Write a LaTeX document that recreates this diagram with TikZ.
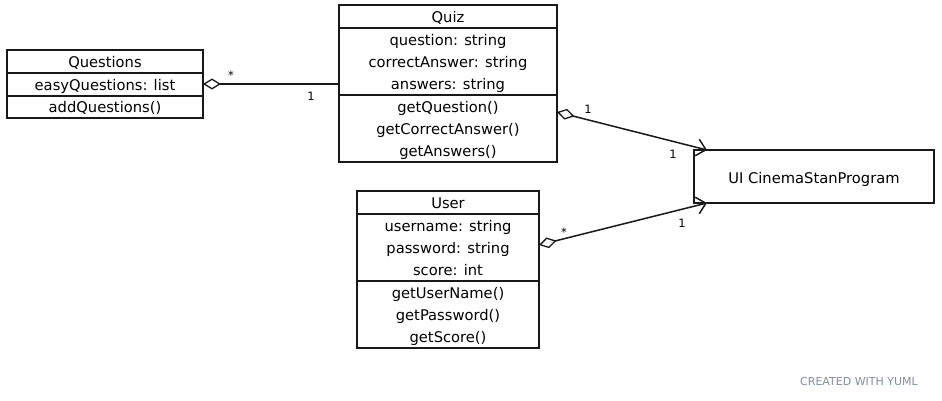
\documentclass[tikz,border=0pt]{standalone}
\usepackage{fontspec}
\setmainfont{DejaVu Sans}
\usetikzlibrary{arrows.meta,calc}
\definecolor{yumlgray}{RGB}{130,142,156}
\definecolor{edge}{RGB}{25,25,25}
\begin{document}
\begin{tikzpicture}[x=1pt,y=-1pt,
  box/.style={draw=edge,line width=1.4pt,inner sep=0pt,outer sep=0pt,anchor=north west},
  divider/.style={draw=edge,line width=1.4pt},
  txt/.style={font=\fontsize{14.7}{17}\selectfont,inner sep=0pt,anchor=mid},
  mult/.style={font=\fontsize{11.5}{13}\selectfont,inner sep=0pt,anchor=mid},
  conn/.style={draw=edge,line width=1.5pt},
  agg/.style={{Diamond[open,length=18pt,width=11pt,line width=1.3pt]}-},
  aggnav/.style={{Diamond[open,length=18pt,width=11pt,line width=1.3pt]}-{Straight Barb[length=9pt,width=17pt,line width=1.5pt]}}
]
\fill[white] (0,0) rectangle (942,400);
\useasboundingbox (0,0) rectangle (942,400);

% Questions
\node[box,minimum width=196pt,minimum height=68pt] (qs) at (7,50) {};
\draw[divider] (7,73) -- (203,73);
\draw[divider] (7,96) -- (203,96);
\node[txt] (qsT) at (105,64.5) {Questions};
\node[txt] (qsA) at (105,87.5) {easyQuestions: list};
\node[txt] (qsM) at (105,110) {addQuestions()};

% Quiz
\node[box,minimum width=218pt,minimum height=157pt] (quiz) at (339,5) {};
\draw[divider] (339,28) -- (557,28);
\draw[divider] (339,95) -- (557,95);
\node[txt] (quizT) at (448,19.5) {Quiz};
\node[txt] (quizA1) at (448,42.5) {question: string};
\node[txt] (quizA2) at (448,64.5) {correctAnswer: string};
\node[txt] (quizA3) at (448,86.5) {answers: string};
\node[txt] (quizM1) at (448,109.5) {getQuestion()};
\node[txt] (quizM2) at (448,132) {getCorrectAnswer()};
\node[txt] (quizM3) at (448,154) {getAnswers()};

% User
\node[box,minimum width=182pt,minimum height=157pt] (user) at (357,191) {};
\draw[divider] (357,214) -- (539,214);
\draw[divider] (357,281) -- (539,281);
\node[txt] (userT) at (448,205.5) {User};
\node[txt] (userA1) at (448,228.5) {username: string};
\node[txt] (userA2) at (448,250.5) {password: string};
\node[txt] (userA3) at (448,272.5) {score: int};
\node[txt] (userM1) at (448,295.5) {getUserName()};
\node[txt] (userM2) at (448,318) {getPassword()};
\node[txt] (userM3) at (448,340) {getScore()};

% UI
\node[box,minimum width=240pt,minimum height=53pt] (ui) at (694,150) {};
\node[txt] (uiT) at (814,180.5) {UI CinemaStanProgram};

% connectors
\draw[conn,agg] (qs.east) -- (qs.east -| quiz.west);
\draw[conn,aggnav] ($(quiz.east)+(0,28.5)$) -- ($(ui.north west)+(13,0)$);
\draw[conn,aggnav] ($(user.east)+(0,-24.5)$) -- ($(ui.south west)+(13,0)$);

% multiplicities
\node[mult] (m1) at (231,77) {*};
\node[mult] (m2) at (311,98) {1};
\node[mult] (m3) at (588,111) {1};
\node[mult] (m4) at (673,156) {1};
\node[mult] (m5) at (564,234) {*};
\node[mult] (m6) at (682,225) {1};

\node[font=\fontsize{11}{13}\selectfont,text=yumlgray,inner sep=0pt,anchor=mid] (credit) at (859,382.5) {CREATED WITH YUML};
\end{tikzpicture}
\end{document}
